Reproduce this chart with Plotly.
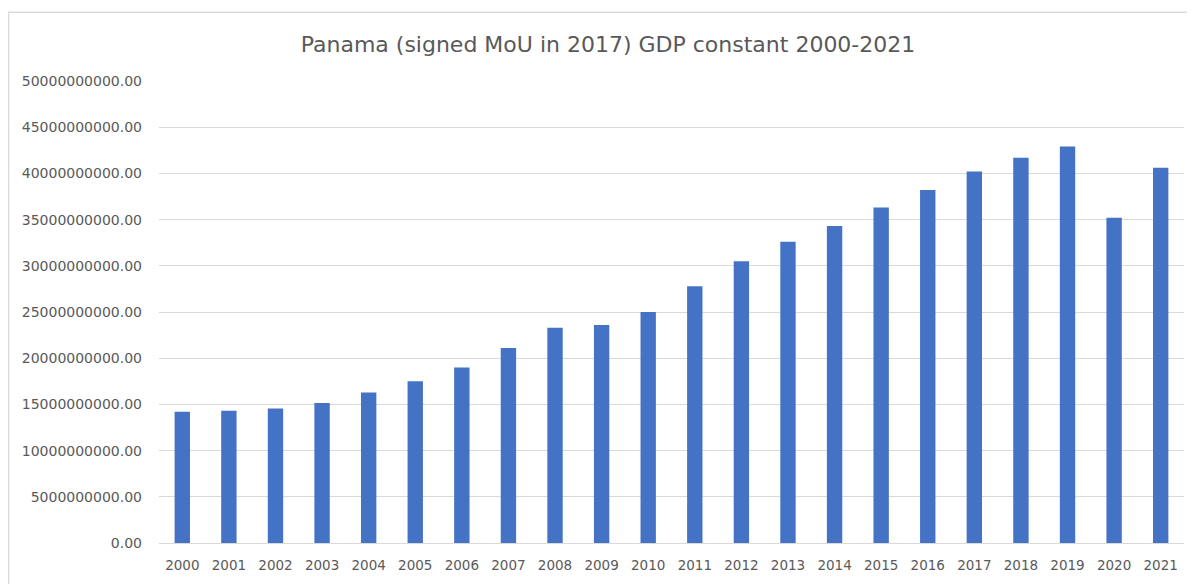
import plotly.graph_objects as go

years = [str(y) for y in range(2000, 2022)]
gdp_billions = [14.2, 14.3, 14.55, 15.15, 16.3, 17.5, 19.0, 21.1, 23.3, 23.6, 25.0, 27.8,
                30.5, 32.6, 34.3, 36.3, 38.2, 40.2, 41.7, 42.9, 35.2, 40.6]
gdp = [v * 1e9 for v in gdp_billions]
title_text = "Panama (signed MoU in 2017) GDP constant 2000-2021"

fig = go.Figure()
fig.add_trace(go.Bar(x=years, y=gdp, marker=dict(color="#4472C4", line=dict(width=0)),
                     width=0.33))

# page has an 8px body margin; figure is placed at (8, 8)
W, H = 1187, 576
L, R, T, B = 151, 11, 73, 33
pw, ph = W - L - R, H - T - B

fig.update_layout(
    width=W, height=H,
    margin=dict(l=L, r=R, t=T, b=B),
    paper_bgcolor="white", plot_bgcolor="white",
    showlegend=False,
    font=dict(family="DejaVu Sans", color="#595959"),
    title=dict(text=title_text, x=600 / W, xanchor="center", y=1 - 36 / H, yanchor="middle",
               font=dict(family="DejaVu Sans", size=22, color="#595959")),
    xaxis=dict(type="category", showgrid=False, showline=True, linecolor="#d9d9d9",
               ticks="", tickfont=dict(size=13.5, color="#595959"), ticklabelstandoff=10),
    yaxis=dict(range=[0, 50e9], dtick=5e9, tick0=0, tickformat=".2f",
               showgrid=True, gridcolor="#d9d9d9", gridwidth=1,
               zeroline=False, showline=False, ticks="", ticklen=0,
               tickfont=dict(size=14, color="#595959"), ticklabelstandoff=16),
    shapes=[dict(type="rect", xref="paper", yref="paper",
                 x0=(0.5 - L) / pw, x1=(1215 - L) / pw,
                 y0=(H - B - 600) / ph, y1=(H - B - 3) / ph,
                 line=dict(color="#d9d9d9", width=1.5), fillcolor="rgba(0,0,0,0)", layer="below")],
)

fig.write_html("out.html")
